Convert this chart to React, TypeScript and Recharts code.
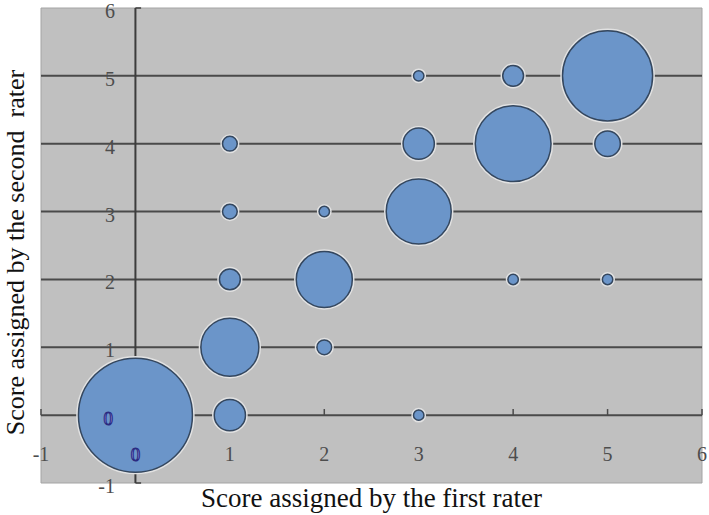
import React from "react";
import {
  ScatterChart,
  Scatter,
  XAxis,
  YAxis,
  ZAxis,
  ReferenceArea,
  ReferenceLine,
  Label,
} from "recharts";

// scores given by the two raters and how many essays got each pair
const firstRater = [0, 1, 3, 1, 2, 1, 2, 4, 5, 1, 2, 3, 1, 3, 4, 5, 3, 4, 5];
const secondRater = [0, 0, 0, 1, 1, 2, 2, 2, 2, 3, 3, 3, 4, 4, 4, 4, 5, 5, 5];
const counts = [120, 9, 1, 31, 2, 4, 29, 1, 1, 2, 1, 39, 2, 9, 53, 6, 1, 4, 75];

const xTicks = [-1, 0, 1, 2, 3, 4, 5, 6];
const yTicks = [-1, 0, 1, 2, 3, 4, 5, 6];
const gridRows = [1, 2, 3, 4, 5];
const axisTickMarks = [-1, 1, 2, 3, 4, 5, 6];

const xTitle = "Score assigned by the first rater";
const yTitle = "Score assigned by the second  rater";

const data = firstRater.map((first, i) => ({
  first,
  second: secondRater[i],
  count: counts[i],
}));

const serif = "'Liberation Serif', 'Times New Roman', serif";
const MAX_R = 57;

const tickStyle = { fill: "#4d4d4d", fontSize: 20, fontFamily: serif };
const zeroStyle = {
  fill: "#a6a6ff",
  stroke: "#2a2a80",
  strokeWidth: 1.1,
  fontSize: 19,
  fontFamily: serif,
};

const XTick = (props: any) => {
  const { x, y, payload } = props;
  const isZero = payload.value === 0;
  return (
    <text x={x} y={y - 22} textAnchor="middle" style={isZero ? zeroStyle : tickStyle}>
      {payload.value}
    </text>
  );
};

const YTick = (props: any) => {
  const { x, y, payload } = props;
  const isZero = payload.value === 0;
  return (
    <text
      x={isZero ? x + 72 : x + 74}
      y={y + 10}
      textAnchor="end"
      style={isZero ? zeroStyle : tickStyle}
    >
      {payload.value}
    </text>
  );
};

const YTitle = (props: any) => {
  const { viewBox } = props;
  const cx = viewBox.x + 24;
  const cy = viewBox.y + viewBox.height / 2 + 7;
  return (
    <text
      x={cx}
      y={cy}
      transform={`rotate(-90 ${cx} ${cy})`}
      textAnchor="middle"
      style={{ fontSize: 26, fontFamily: serif, fill: "#111", whiteSpace: "pre" }}
    >
      {yTitle}
    </text>
  );
};

const Bubble = (props: any) => {
  const { cx, cy, width } = props;
  const r = width / 2;
  return (
    <g>
      <circle cx={cx} cy={cy} r={r + 1.2} fill="none" stroke="#e2e2e2" strokeWidth={2} />
      <circle cx={cx} cy={cy} r={r} fill="#6b95c9" stroke="#34475f" strokeWidth={1.5} />
    </g>
  );
};

export default function App() {
  return (
    <div style={{ position: "absolute", left: 0, top: 0, background: "#fff" }}>
      <ScatterChart
        width={709}
        height={515}
        margin={{ top: 8, right: 7, left: 0, bottom: 0 }}
      >
        <XAxis
          type="number"
          dataKey="first"
          domain={[-1, 6]}
          ticks={xTicks}
          height={32}
          axisLine={false}
          tickLine={false}
          tickSize={0}
          tickMargin={0}
          tick={<XTick />}
          interval={0}
        >
          <Label
            value={xTitle}
            position="insideBottom"
            offset={8}
            style={{ fontSize: 27, fontFamily: serif, fill: "#111" }}
          />
        </XAxis>
        <YAxis
          type="number"
          dataKey="second"
          domain={[-1, 6]}
          ticks={yTicks}
          width={41}
          axisLine={false}
          tickLine={false}
          tickSize={0}
          tickMargin={0}
          tick={<YTick />}
          interval={0}
        >
          <Label content={<YTitle />} />
        </YAxis>
        <ZAxis dataKey="count" domain={[0, 120]} range={[0, Math.PI * MAX_R * MAX_R]} />

        <ReferenceArea x1={-1} x2={6} y1={-1} y2={6} fill="#c0c0c0" fillOpacity={1} stroke="#a4a4a4" />
        {gridRows.map((row) => (
          <ReferenceLine key={row} y={row} stroke="#4a4a4a" strokeWidth={2} />
        ))}
        <ReferenceLine y={0} stroke="#4a4a4a" strokeWidth={2} />
        <ReferenceLine x={0} stroke="#3c3c3c" strokeWidth={2} />
        {axisTickMarks.map((t) => (
          <ReferenceLine
            key={"xt" + t}
            segment={[{ x: t, y: 0 }, { x: t, y: 0.09 }]}
            stroke="#4a4a4a"
            strokeWidth={1.5}
          />
        ))}
        <ReferenceLine segment={[{ x: 0, y: 6 }, { x: 0.06, y: 6 }]} stroke="#3c3c3c" strokeWidth={1.5} />
        <ReferenceLine segment={[{ x: 0, y: -1 }, { x: 0.06, y: -1 }]} stroke="#3c3c3c" strokeWidth={1.5} />

        <Scatter data={data} shape={<Bubble />} isAnimationActive={false} />
      </ScatterChart>
    </div>
  );
}
